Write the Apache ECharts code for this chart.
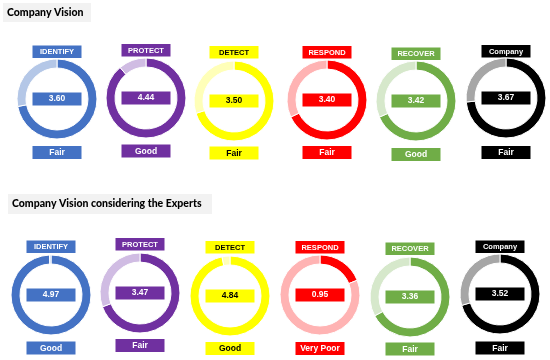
<!DOCTYPE html>
<html>
<head>
<meta charset="utf-8">
<script src="https://cdn.jsdelivr.net/npm/echarts@6/dist/echarts.min.js"></script>
<style>
html,body{margin:0;padding:0;background:#fff;}
#chart{width:550px;height:360px;}
</style>
</head>
<body>
<div id="chart"></div>
<script>
// ---- data ----
var categories = ['IDENTIFY', 'PROTECT', 'DETECT', 'RESPOND', 'RECOVER', 'Company'];
var visionScores = [3.60, 4.44, 3.50, 3.40, 3.42, 3.67];
var visionRatings = ['Fair', 'Good', 'Fair', 'Fair', 'Good', 'Fair'];
var expertScores = [4.97, 3.47, 4.84, 0.95, 3.36, 3.52];
var expertRatings = ['Good', 'Fair', 'Good', 'Very Poor', 'Fair', 'Fair'];
var maxScore = 5;
var sectionTitles = ['Company Vision', 'Company Vision considering the Experts'];

// ---- styles ----
var darkColors = ['#4472C4', '#7030A0', '#FFFF00', '#FF0000', '#70AD47', '#000000'];
var lightColors = ['#B4C7E7', '#D0BCE3', '#FFFFB8', '#FFB3B3', '#D6E8CB', '#A6A6A6'];
var textColors = ['#fff', '#fff', '#000', '#fff', '#fff', '#fff'];

var rows = [
  { scores: visionScores, ratings: visionRatings,
    cx: [57, 146, 234, 327, 416, 506], cy: [99, 98, 101, 100, 101, 98],
    topY: [52, 50.5, 52.5, 52.5, 54, 51.5], botY: [152.5, 151, 153, 152.5, 154.5, 152.5],
    title: { box: [3, 3, 88, 19], tx: 7 } },
  { scores: expertScores, ratings: expertRatings,
    cx: [51, 140, 230, 320, 410, 500], cy: [295, 293, 296, 295, 297, 294],
    topY: [247, 244.5, 247.5, 247.5, 249, 247], botY: [348, 345.5, 348.5, 348.5, 349, 348],
    title: { box: [8, 194, 204, 20], tx: 12 } }
];

var BOX_W = 49, BOX_H = 13;
var series = [];
var graphics = [];

rows.forEach(function (row, r) {
  // section title
  var tb = row.title.box;
  graphics.push({ type: 'rect', shape: { x: tb[0], y: tb[1], width: tb[2], height: tb[3] },
    style: { fill: '#F2F2F2' }, silent: true });
  graphics.push({ type: 'text', x: row.title.tx, y: tb[1] + tb[3] / 2,
    style: { text: sectionTitles[r], fill: '#000', font: '900 10.5px Lato', textVerticalAlign: 'middle', textAlign: 'left' },
    silent: true });

  categories.forEach(function (cat, i) {
    var score = row.scores[i];
    series.push({
      type: 'pie',
      center: [row.cx[i], row.cy[i]],
      radius: [31, 40],
      startAngle: 90,
      clockwise: true,
      silent: true,
      animation: false,
      labelLine: { show: false },
      itemStyle: { borderColor: '#fff', borderWidth: 1 },
      data: [
        { value: score, itemStyle: { color: darkColors[i] },
          label: { show: true, position: 'center',
            formatter: score.toFixed(2),
            backgroundColor: darkColors[i], color: textColors[i],
            width: BOX_W, height: BOX_H, lineHeight: BOX_H, align: 'center',
            fontFamily: 'Liberation Sans, Arial', fontWeight: 'bold', fontSize: 8.5 } },
        { value: maxScore - score, itemStyle: { color: lightColors[i] }, label: { show: false } }
      ]
    });
    // top category box
    graphics.push({ type: 'rect', shape: { x: row.cx[i] - BOX_W / 2, y: row.topY[i] - 6.5, width: BOX_W, height: 12.5 },
      style: { fill: darkColors[i] }, silent: true });
    graphics.push({ type: 'text', x: row.cx[i], y: row.topY[i],
      style: { text: cat, fill: textColors[i], font: 'bold 7.5px "Liberation Sans", Arial', textAlign: 'center', textVerticalAlign: 'middle' },
      silent: true });
    // bottom rating box
    graphics.push({ type: 'rect', shape: { x: row.cx[i] - BOX_W / 2, y: row.botY[i] - 6.5, width: BOX_W, height: 13 },
      style: { fill: darkColors[i] }, silent: true });
    graphics.push({ type: 'text', x: row.cx[i], y: row.botY[i] + 0.5,
      style: { text: row.ratings[i], fill: textColors[i], font: 'bold 8.5px "Liberation Sans", Arial', textAlign: 'center', textVerticalAlign: 'middle' },
      silent: true });
  });
});

var chart = echarts.init(document.getElementById('chart'), null, { renderer: 'canvas' });
chart.setOption({
  backgroundColor: '#fff',
  animation: false,
  series: series,
  graphic: graphics
});
</script>
</body>
</html>
